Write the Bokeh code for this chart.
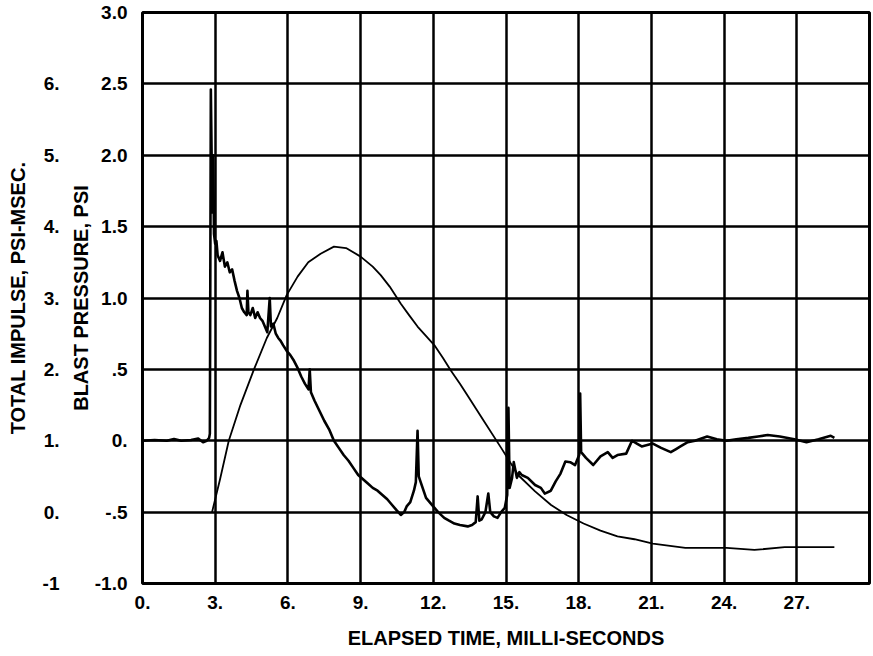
from bokeh.plotting import figure
from bokeh.models import Range1d, LinearAxis, FixedTicker
from bokeh.embed import file_html
from bokeh.resources import INLINE

# ---- data ----
time_ticks = [0, 3, 6, 9, 12, 15, 18, 21, 24, 27]
time_labels = ["0.", "3.", "6.", "9.", "12.", "15.", "18.", "21.", "24.", "27."]
press_ticks = [-1.0, -0.5, 0.0, 0.5, 1.0, 1.5, 2.0, 2.5, 3.0]
press_labels = ["-1.0", "-.5", "0.", ".5", "1.0", "1.5", "2.0", "2.5", "3.0"]
imp_ticks = [-1, 0, 1, 2, 3, 4, 5, 6]
imp_labels = ["-1", "0.", "1.", "2.", "3.", "4.", "5.", "6."]

# blast pressure trace (ms, psi)
press_t = [0.0, 0.5, 1.0, 1.3, 1.6, 2.0, 2.3, 2.5, 2.65, 2.75, 2.78, 2.82, 2.88, 2.92, 2.95,
           3.0, 3.05, 3.1, 3.2, 3.3, 3.4, 3.5, 3.6, 3.7, 3.8, 3.9, 4.0, 4.1, 4.2, 4.3,
           4.33, 4.37, 4.45, 4.55, 4.65, 4.75, 4.85, 4.95, 5.05, 5.15, 5.25, 5.3, 5.4,
           5.5, 5.6, 5.7, 5.8, 5.95, 6.1, 6.25, 6.4, 6.55, 6.7, 6.85, 6.9, 6.95, 7.1,
           7.3, 7.5, 7.7, 7.9, 8.1, 8.3, 8.5, 8.7, 8.9, 9.1, 9.3, 9.5, 9.7, 9.9, 10.1,
           10.3, 10.5, 10.66, 10.8, 10.9, 11.05, 11.2, 11.28, 11.35, 11.4, 11.5, 11.7,
           11.9, 12.05, 12.2, 12.45, 12.65, 12.87, 13.1, 13.42, 13.6, 13.75, 13.83, 13.9,
           14.0, 14.15, 14.27, 14.35, 14.5, 14.65, 14.8, 14.95, 15.05, 15.1, 15.15, 15.25,
           15.32, 15.45, 15.55, 15.65, 15.9, 16.2, 16.44, 16.6, 16.85, 17.05, 17.25, 17.45,
           17.65, 17.85, 18.02, 18.06, 18.1, 18.3, 18.6, 18.9, 19.2, 19.4, 19.6, 19.96,
           20.2, 20.4, 20.6, 21.06, 21.4, 21.8, 22.0, 22.2, 22.5, 22.8, 23.3, 23.7, 24.1,
           24.5, 25.0, 25.4, 25.8, 26.3, 26.9, 27.4, 27.9, 28.4, 28.55]
press_v = [0.0, 0.005, 0.0, 0.012, 0.0, 0.005, 0.015, -0.01, 0.0, 0.02, 0.05, 2.46, 1.6, 2.0, 1.45,
           1.38, 1.40, 1.30, 1.26, 1.32, 1.22, 1.25, 1.18, 1.20, 1.12, 1.05, 1.0, 0.93, 0.90, 0.88,
           1.05, 0.90, 0.88, 0.93, 0.86, 0.90, 0.86, 0.84, 0.80, 0.76, 1.0, 0.80, 0.82,
           0.75, 0.72, 0.70, 0.67, 0.63, 0.60, 0.56, 0.51, 0.45, 0.40, 0.36, 0.50, 0.34, 0.28,
           0.21, 0.14, 0.08, 0.0, -0.05, -0.10, -0.14, -0.19, -0.24, -0.27, -0.30, -0.33, -0.35, -0.38, -0.41,
           -0.45, -0.49, -0.52, -0.50, -0.46, -0.43, -0.35, -0.29, 0.07, -0.25, -0.30, -0.40,
           -0.44, -0.47, -0.50, -0.54, -0.56, -0.58, -0.59, -0.60, -0.59, -0.57, -0.39, -0.56,
           -0.55, -0.50, -0.37, -0.50, -0.53, -0.54, -0.50, -0.47, -0.38, 0.23, -0.33, -0.26,
           -0.15, -0.26, -0.22, -0.24, -0.26, -0.31, -0.33, -0.37, -0.35, -0.285, -0.23, -0.145,
           -0.15, -0.17, -0.10, 0.33, -0.08, -0.12, -0.17, -0.11, -0.08, -0.12, -0.10, -0.09,
           0.0, -0.02, -0.04, -0.02, -0.05, -0.08, -0.06, -0.04, -0.01, 0.0, 0.03, 0.01, 0.0,
           0.01, 0.02, 0.03, 0.04, 0.03, 0.01, -0.01, 0.01, 0.035, 0.02]

# total impulse (ms, psi-msec)
imp_t = [2.87, 3.2, 3.56, 4.04, 4.6, 5.13, 5.56, 5.95, 6.4, 6.84, 7.35, 7.9, 8.4, 9.0, 9.5,
         9.83, 10.2, 10.66, 11.0, 11.35, 12.04, 12.4, 12.73, 13.1, 13.42, 14.1, 14.8, 15.5,
         16.2, 16.86, 17.5, 18.2, 18.9, 19.6, 20.3, 21.06, 22.4, 24.1, 25.25, 26.5, 28.55]
imp_v = [0.0, 0.46, 1.0, 1.5, 2.0, 2.44, 2.72, 3.04, 3.3, 3.5, 3.62, 3.72, 3.7, 3.58, 3.44,
         3.32, 3.16, 2.92, 2.76, 2.6, 2.34, 2.16, 1.98, 1.8, 1.63, 1.27, 0.9, 0.52,
         0.29, 0.1, -0.04, -0.16, -0.26, -0.34, -0.38, -0.44, -0.5, -0.5, -0.53, -0.49, -0.49]

FONT = "Liberation Sans"

p = figure(width=871, height=654, x_range=Range1d(0, 30), y_range=Range1d(-1, 3),
           output_backend="svg", toolbar_location=None,
           min_border_left=142, min_border_right=2, min_border_top=12, min_border_bottom=71)
p.extra_y_ranges = {"imp": Range1d(-1, 7)}

p.outline_line_color = "black"
p.outline_line_width = 3
p.outline_line_alpha = 1.0

# grid
p.xgrid.ticker = FixedTicker(ticks=time_ticks)
p.ygrid.ticker = FixedTicker(ticks=press_ticks)
for g in (p.xgrid, p.ygrid):
    g.grid_line_color = "black"
    g.grid_line_width = 2.5
    g.grid_line_alpha = 1.0


def style_axis(ax, standoff, label_standoff):
    ax.axis_line_color = None
    ax.major_tick_line_color = None
    ax.minor_tick_line_color = None
    ax.major_label_standoff = standoff
    ax.axis_label_standoff = label_standoff
    ax.major_label_text_font = FONT
    ax.major_label_text_font_style = "bold"
    ax.major_label_text_font_size = "19px"
    ax.major_label_text_color = "black"
    ax.axis_label_text_font = FONT
    ax.axis_label_text_font_style = "bold"
    ax.axis_label_text_font_size = "20px"
    ax.axis_label_text_color = "black"


# x axis
xa = p.xaxis[0]
xa.ticker = FixedTicker(ticks=time_ticks)
xa.major_label_overrides = {t: l for t, l in zip(time_ticks, time_labels)}
xa.axis_label = "ELAPSED TIME, MILLI-SECONDS"
style_axis(xa, 6, 15)

# inner left axis: pressure
ya = p.yaxis[0]
ya.ticker = FixedTicker(ticks=press_ticks)
ya.major_label_overrides = {t: l for t, l in zip(press_ticks, press_labels)}
ya.axis_label = "BLAST PRESSURE, PSI"
style_axis(ya, 9, 0)

# outer left axis: impulse
ia = LinearAxis(y_range_name="imp", ticker=FixedTicker(ticks=imp_ticks),
                axis_label="TOTAL IMPULSE, PSI-MSEC.")
ia.major_label_overrides = {t: l for t, l in zip(imp_ticks, imp_labels)}
style_axis(ia, 1, 11)
p.add_layout(ia, "left")

# curves
p.line(press_t, press_v, line_color="black", line_width=2.6, line_join="round")
p.line(imp_t, imp_v, y_range_name="imp", line_color="black", line_width=1.8, line_join="round")

open("out.html", "w").write(file_html(p, INLINE))
